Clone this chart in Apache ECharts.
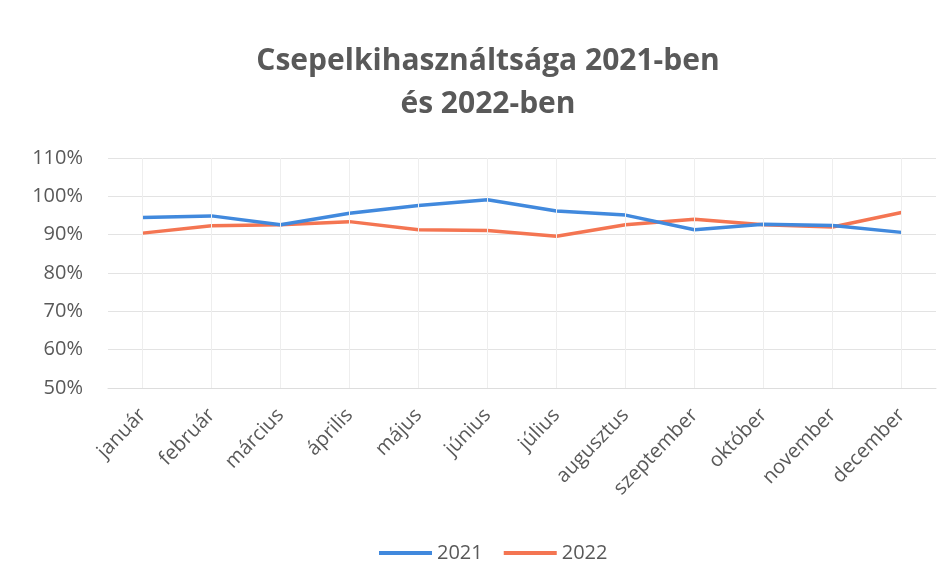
<!DOCTYPE html>
<html>
<head>
<meta charset="utf-8">
<script src="https://cdn.jsdelivr.net/npm/echarts@6/dist/echarts.min.js"></script>
<style>
  html, body { margin: 0; padding: 0; background: #fff; }
  #main { width: 948px; height: 580px; }
</style>
</head>
<body>
<div id="main"></div>
<script>
// adatok (havi kihasználtság, %)
const months = ['január', 'február', 'március', 'április', 'május', 'június', 'július', 'augusztus', 'szeptember', 'október', 'november', 'december']
const util2021 = [94.5, 94.9, 92.6, 95.6, 97.6, 99.1, 96.2, 95.1, 91.3, 92.7, 92.4, 90.6]
const util2022 = [90.4, 92.3, 92.6, 93.4, 91.3, 91.1, 89.6, 92.6, 94.0, 92.6, 92.0, 95.8]
const yTicks = { min: 50, max: 110, step: 10 }

const textColor = '#595959'
const font = 'Open Sans'

const option = {
  animation: false,
  backgroundColor: '#fff',
  title: {
    text: 'Csepelkihasználtsága 2021-ben\nés 2022-ben',
    left: 483,
    top: 35,
    textAlign: 'center',
    textStyle: {
      fontFamily: font,
      fontSize: 30,
      fontWeight: 'bold',
      color: textColor,
      lineHeight: 43
    }
  },
  legend: {
    top: 538,
    left: 374,
    icon: 'rect',
    itemWidth: 53,
    itemHeight: 4,
    itemGap: 21,
    textStyle: { fontFamily: font, fontSize: 20, color: textColor },
    data: ['2021', '2022']
  },
  grid: {
    left: 108,
    right: 12,
    top: 158,
    height: 230
  },
  xAxis: {
    type: 'category',
    data: months,
    boundaryGap: true,
    axisLine: { lineStyle: { color: '#dddddd' } },
    axisTick: { show: false },
    splitLine: { show: false },
    axisLabel: {
      rotate: 46,
      interval: 0,
      margin: 24,
      fontFamily: font,
      fontSize: 20,
      color: textColor
    }
  },
  yAxis: {
    type: 'value',
    min: yTicks.min,
    max: yTicks.max,
    interval: yTicks.step,
    axisLine: { show: false },
    axisTick: { show: false },
    splitLine: { lineStyle: { color: '#e3e3e3' } },
    axisLabel: {
      formatter: '{value}%',
      margin: 25,
      fontFamily: font,
      fontSize: 20,
      color: textColor
    }
  },
  series: [
    {
      name: '2021',
      type: 'line',
      data: util2021,
      symbol: 'none',
      lineStyle: { width: 3.5, color: '#4189dd' },
      itemStyle: { color: '#4189dd' },
      z: 3,
      // függőleges rácsvonalak a kategóriák közepén
      markLine: {
        silent: true,
        symbol: 'none',
        label: { show: false },
        lineStyle: { color: '#eeeeee', width: 1, type: 'solid' },
        data: months.map(m => ({ xAxis: m }))
      }
    },
    {
      name: '2022',
      type: 'line',
      data: util2022,
      symbol: 'none',
      lineStyle: { width: 3.5, color: '#f47552' },
      itemStyle: { color: '#f47552' },
      z: 2
    }
  ]
}

echarts.init(document.getElementById('main')).setOption(option)
</script>
</body>
</html>
